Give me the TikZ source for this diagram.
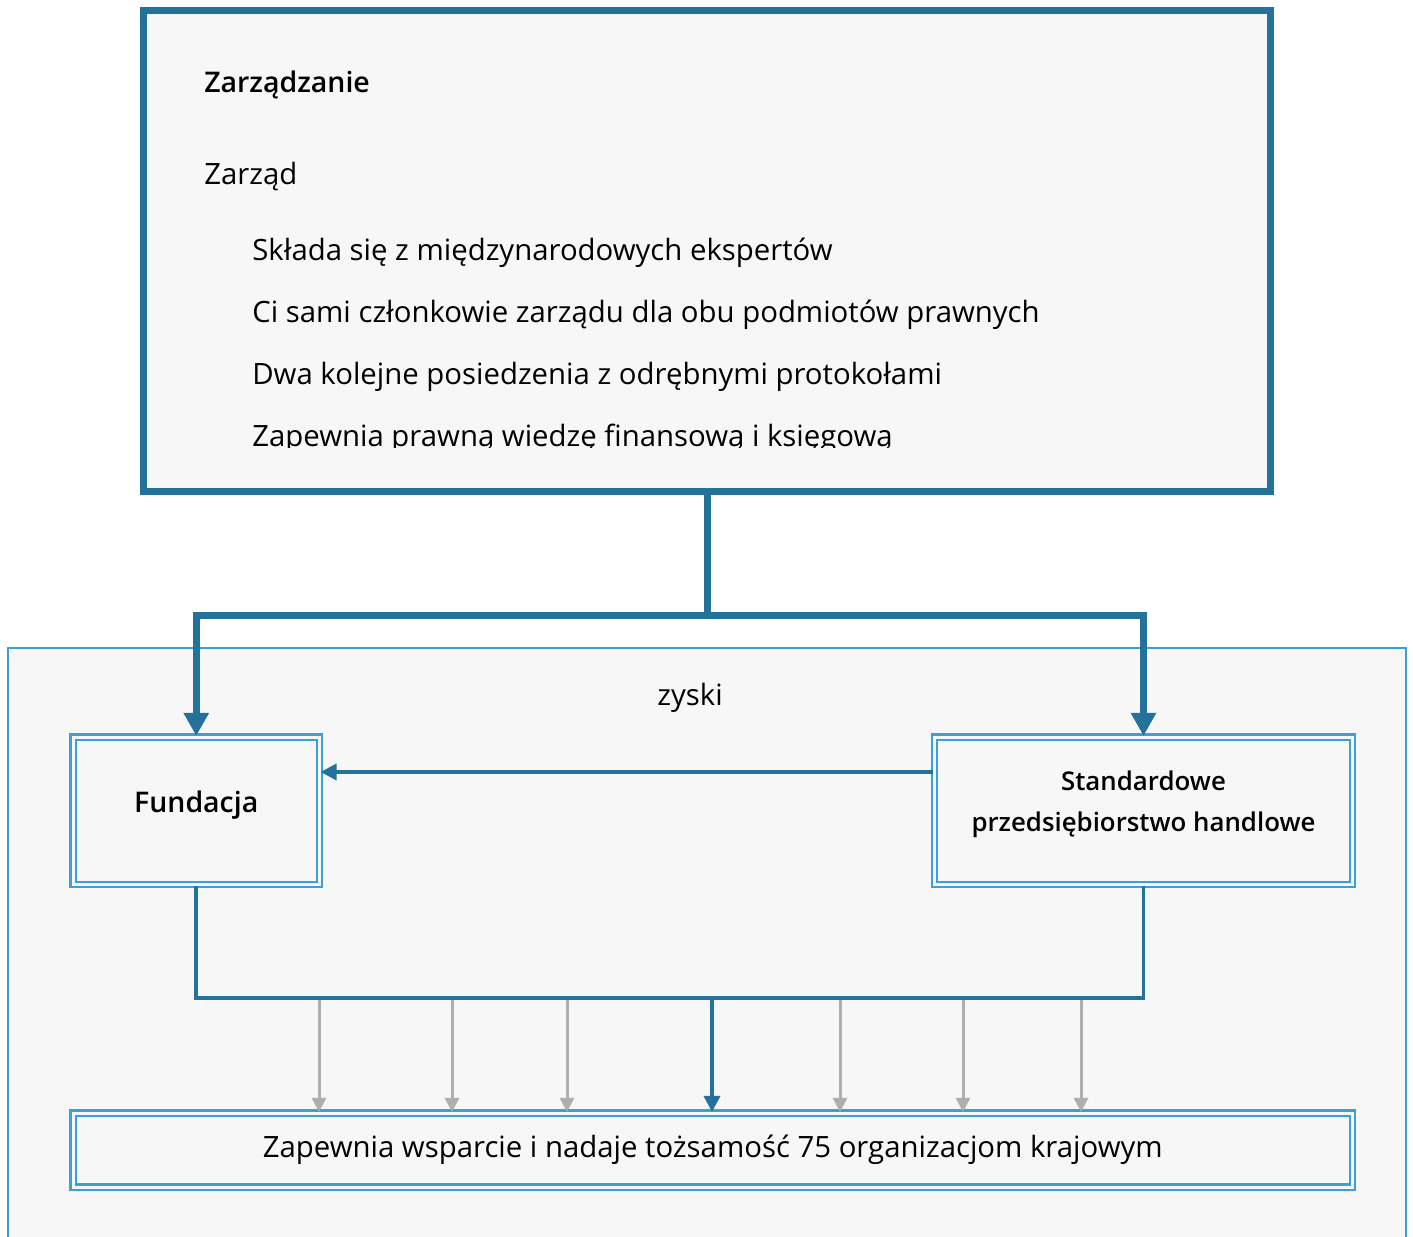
\documentclass[tikz,border=0pt]{standalone}
\usepackage{fontspec}
\setmainfont{Open Sans}
\IfFontExistsTF{Open Sans SemiBold}
  {\newfontfamily\semibold{Open Sans SemiBold}}
  {\IfFontExistsTF{Open Sans Semibold}
    {\newfontfamily\semibold{Open Sans Semibold}}
    {\newfontfamily\semibold[FakeBold=1]{Open Sans}}}
\usepackage{tikz}
\usetikzlibrary{arrows.meta, positioning}
\definecolor{darkblue}{HTML}{23729B}
\definecolor{lightblue}{HTML}{3BA0D5}
\definecolor{arrowgrey}{HTML}{B0ADAD}
\definecolor{boxfill}{HTML}{F7F7F7}

\begin{document}
\begin{tikzpicture}[
  x=0.02cm, y=-0.02cm,
  font=\fontsize{16.7}{23.2}\selectfont,
  bold/.style={font=\fontsize{16.2}{23.2}\selectfont\semibold},
  mgmt/.style={draw=darkblue, line width=0.14cm, fill=boxfill,
               minimum width=22.54cm, minimum height=9.62cm, inner sep=0pt},
  unit/.style={draw=lightblue, double=boxfill, double distance=0.06cm,
               line width=0.045cm, fill=boxfill, align=center, inner sep=0pt},
  txt/.style={anchor=base west, inner sep=0pt},
  main/.style={line width=0.14cm, draw=darkblue, -{Triangle[length=0.46cm, width=0.48cm]}},
  link/.style={line width=0.075cm, draw=darkblue},
  arr/.style={link, -{Triangle[length=0.32cm, width=0.32cm]}},
  greyarr/.style={line width=0.06cm, draw=arrowgrey, -{Triangle[length=0.28cm, width=0.28cm]}}
]
\useasboundingbox (0,0) rectangle (1413,1237);

\fill[boxfill] (8,648) rectangle (1406,1237);
\draw[lightblue, line width=0.04cm] (8,1237) -- (8,648) -- (1406,648) -- (1406,1237);

\node[mgmt] (board) at (707,251) {};
\node[txt, bold] (head) at (204,92) {Zarządzanie};
\node[txt] (sub) at (204,184) {Zarząd};
\node[txt] (p1) at (252,260) {Składa się z międzynarodowych ekspertów};
\node[txt] (p2) at (252,322) {Ci sami członkowie zarządu dla obu podmiotów prawnych};
\node[txt] (p3) at (252,384) {Dwa kolejne posiedzenia z odrębnymi protokołami};
\begin{scope}
  \clip (150,400) rectangle (1260,447);
  \node[txt] (p4) at (252,446) {Zapewnia prawną wiedzę finansową i księgową};
\end{scope}

\node (profit) at (690,698) {zyski};
\node[unit, bold, minimum width=4.93cm, minimum height=2.95cm, text depth=10.5pt] (fund)
  at (196.25,810.75) {Fundacja};
\node[unit, font=\fontsize{14.7}{23.2}\selectfont\semibold, minimum width=8.36cm,
  minimum height=2.95cm, text depth=10.5pt] (trade)
  at (1143.5,810.75) {Standardowe\\przedsiębiorstwo handlowe};
\node[unit, minimum width=25.59cm, minimum height=1.48cm] (support) at (712.75,1150)
  {Zapewnia wsparcie i nadaje tożsamość 75 organizacjom krajowym};

\coordinate (split) at (707,615);
\coordinate (merge) at (712,998);
\draw[darkblue, line width=0.14cm] (board.south) -- (split);
\draw[main] (split) -| (fund.north);
\draw[main] (split) -| (trade.north);
\draw[arr] ([yshift=0.775cm]trade.west) -- ([yshift=0.775cm]fund.east);
\foreach \x in {319,452,567,840,963,1081}
  \draw[greyarr] (\x,0 |- merge) -- (\x,0 |- support.north);
\draw[link] (fund.south) |- (merge) -| (trade.south);
\draw[arr] (merge) -- (merge |- support.north);
\end{tikzpicture}
\end{document}
